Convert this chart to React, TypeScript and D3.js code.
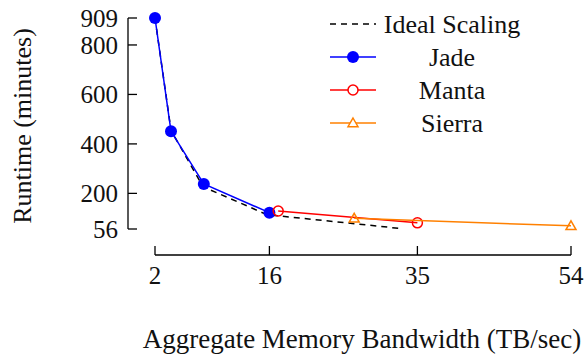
import React from "react";
import * as d3 from "d3";

const idealX = [2, 4, 8, 16, 33];
const idealY = [909, 455, 227, 114, 57];
const jadeX = [2, 4, 8.1, 16.3];
const jadeY = [909, 451, 238, 122];
const mantaX = [17.4, 34.8];
const mantaY = [129, 81];
const sierraX = [26.9, 54];
const sierraY = [99, 69];
const xTickValues = [2, 16.3, 34.8, 54];
const xTickLabels = ["2", "16", "35", "54"];
const yTickValues = [56, 200, 400, 600, 800, 909];
const legendLabels = ["Ideal Scaling", "Jade", "Manta", "Sierra"];

const FONT = "'Liberation Serif', 'Times New Roman', serif";

export default function App() {
  const x = d3.scaleLinear().domain([2, 54]).range([155, 571]);
  const y = d3.scaleLinear().domain([56, 909]).range([229, 18]);
  const line = d3
    .line<[number, number]>()
    .x((d) => x(d[0]))
    .y((d) => y(d[1]));
  const zip = (a: number[], b: number[]) => a.map((v, i) => [v, b[i]] as [number, number]);

  const tri = (cx: number, cy: number, s = 5) =>
    `M${cx},${cy - s} L${cx + s},${cy + s * 0.75} L${cx - s},${cy + s * 0.75} Z`;

  const legendY = [24, 57, 90, 123];
  const lx0 = 330, lx1 = 376, lxm = 353, ltx = 452;
  const axY = 255;

  return (
    <svg width={584} height={356} style={{ position: "absolute", left: 0, top: 0, background: "#fff", fontFamily: FONT }}>
      {/* Y axis */}
      <line x1={128} x2={128} y1={y(909)} y2={y(56)} stroke="#000" strokeWidth={1.3} />
      {yTickValues.map((v) => (
        <g key={v}>
          <line x1={128} x2={137} y1={y(v)} y2={y(v)} stroke="#000" strokeWidth={1.3} />
          <text x={118} y={y(v)} dy="0.35em" textAnchor="end" fontSize={25} fill="#111">
            {v}
          </text>
        </g>
      ))}
      {/* X axis */}
      <line x1={x(2)} x2={x(54)} y1={axY} y2={axY} stroke="#000" strokeWidth={1.3} />
      {xTickValues.map((v, i) => (
        <g key={v}>
          <line x1={x(v)} x2={x(v)} y1={axY} y2={axY - 9} stroke="#000" strokeWidth={1.3} />
          <text x={x(v)} y={284} textAnchor="middle" fontSize={25} fill="#111">
            {xTickLabels[i]}
          </text>
        </g>
      ))}
      <text x={362} y={348} textAnchor="middle" fontSize={27} fill="#111">
        Aggregate Memory Bandwidth (TB/sec)
      </text>
      <text transform="translate(31,126) rotate(-90)" textAnchor="middle" fontSize={26} fill="#111">
        Runtime (minutes)
      </text>

      {/* Series */}
      <path d={line(zip(idealX, idealY)) || ""} fill="none" stroke="#000" strokeWidth={1.5} strokeDasharray="6,5" />
      <path d={line(zip(jadeX, jadeY)) || ""} fill="none" stroke="#0000ff" strokeWidth={1.5} />
      {zip(jadeX, jadeY).map((d, i) => (
        <circle key={i} cx={x(d[0])} cy={y(d[1])} r={6} fill="#0000ff" />
      ))}
      <path d={line(zip(mantaX, mantaY)) || ""} fill="none" stroke="#ff0000" strokeWidth={1.5} />
      {zip(mantaX, mantaY).map((d, i) => (
        <circle key={i} cx={x(d[0])} cy={y(d[1])} r={5} fill="none" stroke="#ff0000" strokeWidth={1.5} />
      ))}
      <path d={line(zip(sierraX, sierraY)) || ""} fill="none" stroke="#ff8000" strokeWidth={1.5} />
      {zip(sierraX, sierraY).map((d, i) => (
        <path key={i} d={tri(x(d[0]), y(d[1]))} fill="none" stroke="#ff8000" strokeWidth={1.5} />
      ))}

      {/* Legend */}
      <line x1={lx0} x2={lx1} y1={legendY[0]} y2={legendY[0]} stroke="#000" strokeWidth={1.5} strokeDasharray="6,5" />
      <line x1={lx0} x2={lx1} y1={legendY[1]} y2={legendY[1]} stroke="#0000ff" strokeWidth={1.5} />
      <circle cx={lxm} cy={legendY[1]} r={6} fill="#0000ff" />
      <line x1={lx0} x2={lx1} y1={legendY[2]} y2={legendY[2]} stroke="#ff0000" strokeWidth={1.5} />
      <circle cx={lxm} cy={legendY[2]} r={5} fill="#fff" stroke="#ff0000" strokeWidth={1.5} />
      <line x1={lx0} x2={lx1} y1={legendY[3]} y2={legendY[3]} stroke="#ff8000" strokeWidth={1.5} />
      <path d={tri(lxm, legendY[3])} fill="#fff" stroke="#ff8000" strokeWidth={1.5} />
      {legendLabels.map((l, i) => (
        <text key={l} x={ltx} y={legendY[i]} dy="0.35em" textAnchor="middle" fontSize={26} fill="#111">
          {l}
        </text>
      ))}
    </svg>
  );
}
